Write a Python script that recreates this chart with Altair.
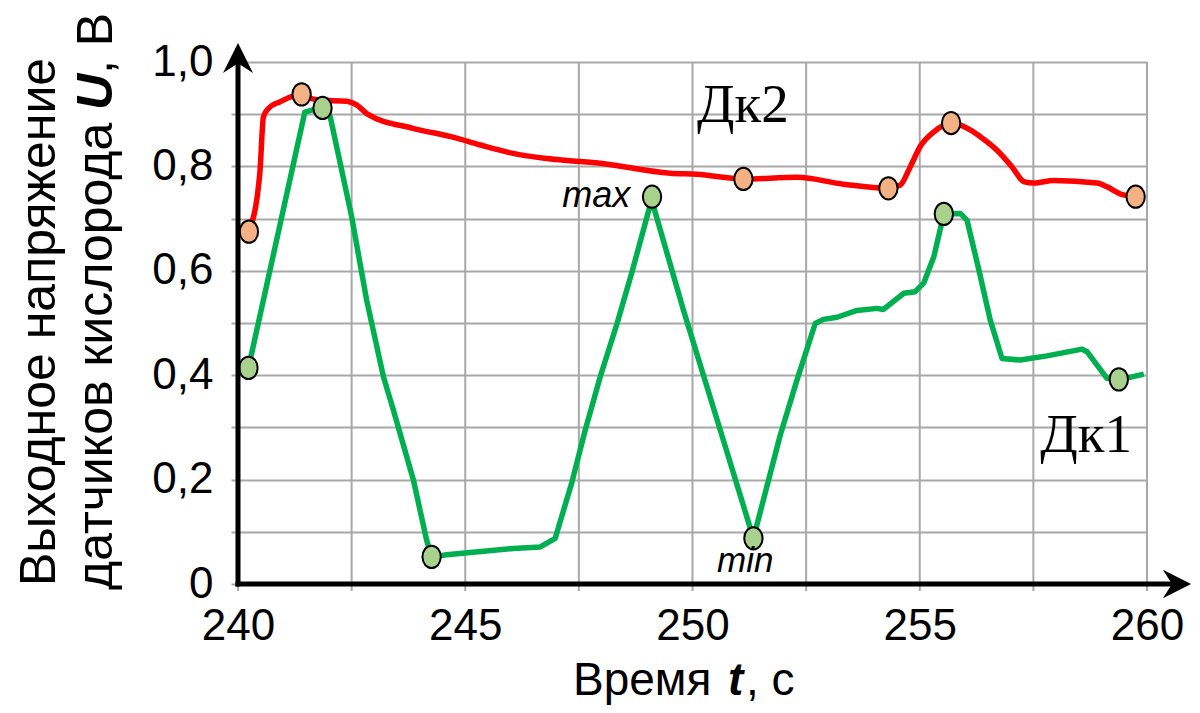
import altair as alt
import pandas as pd

# ---------------- data ----------------
# Дк2 (red) sensor trace
red_t = [240.24, 240.48, 240.56, 240.67, 240.93, 241.40, 241.62, 241.80, 242.39, 242.61,
         242.85, 243.85, 244.73, 245.33, 246.05, 246.80, 247.97, 249.51, 250.10, 251.12,
         252.30, 253.32, 254.31, 254.57, 254.79, 255.01, 255.31, 255.69, 256.11, 256.33,
         256.70, 257.03, 257.29, 257.51, 257.95, 258.90, 259.12, 259.42, 259.75]
red_u = [0.675, 0.787, 0.895, 0.911, 0.924, 0.938, 0.930, 0.927, 0.925, 0.918,
         0.900, 0.873, 0.856, 0.841, 0.825, 0.815, 0.806, 0.787, 0.785, 0.776,
         0.779, 0.766, 0.758, 0.764, 0.799, 0.838, 0.866, 0.883, 0.870, 0.857,
         0.831, 0.799, 0.771, 0.768, 0.773, 0.768, 0.761, 0.747, 0.742]
red_dot_t = [240.24, 241.40, 251.12, 254.31, 255.69, 259.75]
red_dot_u = [0.675, 0.938, 0.776, 0.758, 0.883, 0.742]

# Дк1 (green) sensor trace
green_t = [240.23, 241.47, 241.63, 241.86, 242.03, 242.50, 242.83, 243.20, 243.42, 243.86,
           244.15, 244.26, 244.59, 246.06, 246.65, 246.98, 247.35, 247.64, 247.97, 248.34,
           248.67, 249.10, 249.80, 250.61, 251.34, 251.93, 252.30, 252.70, 252.88, 253.18,
           253.62, 254.06, 254.20, 254.65, 254.90, 255.09, 255.31, 255.53, 255.89, 256.04,
           256.30, 256.55, 256.81, 257.21, 257.80, 258.57, 258.68, 259.12, 259.38, 259.93]
green_u = [0.414, 0.904, 0.908, 0.912, 0.895, 0.704, 0.544, 0.397, 0.333, 0.199,
           0.084, 0.052, 0.056, 0.068, 0.071, 0.0875, 0.196, 0.295, 0.397, 0.499,
           0.598, 0.736, 0.525, 0.295, 0.0875, 0.285, 0.391, 0.499, 0.507, 0.511,
           0.524, 0.528, 0.526, 0.557, 0.560, 0.577, 0.627, 0.709, 0.710, 0.697,
           0.602, 0.506, 0.432, 0.429, 0.437, 0.450, 0.445, 0.394, 0.391, 0.402]
green_dot_t = [240.23, 241.86, 244.26, 249.11, 251.34, 255.53, 259.38]
green_dot_u = [0.414, 0.912, 0.052, 0.742, 0.0875, 0.709, 0.392]

x_ticks = [240, 245, 250, 255, 260]
x_grid = [240, 242.5, 245, 247.5, 250, 252.5, 255, 257.5, 260]
y_grid = [0, 0.1, 0.2, 0.3, 0.4, 0.5, 0.6, 0.7, 0.8, 0.9, 1.0]

series_labels = ["Дк2", "Дк1"]
series_label_t = [250.10, 257.65]
series_label_u = [0.885, 0.253]

# ---------------- styling ----------------
W, H = 909, 522
SANS = "Liberation Sans"
GRID = "#a8a8a8"

red_df = pd.DataFrame({"t": red_t, "u": red_u})
red_dot_df = pd.DataFrame({"t": red_dot_t, "u": red_dot_u})
green_df = pd.DataFrame({"t": green_t, "u": green_u})
green_dot_df = pd.DataFrame({"t": green_dot_t, "u": green_dot_u})
grid_df = pd.DataFrame({"t": x_grid})
lab_df = pd.DataFrame({"t": series_label_t, "u": series_label_u, "label": series_labels})
max_df = pd.DataFrame({"t": [248.63], "u": [0.723], "label": ["max"]})
min_df = pd.DataFrame({"t": [250.54], "u": [0.0236], "label": ["min"]})

x_axis = alt.Axis(values=x_ticks, grid=False, ticks=False, domain=False,
                  labelFont=SANS, labelFontSize=44, labelColor="black",
                  labelPadding=20, labelFlush=False, labelBound=False,
                  labelOverlap=False, title=None)
y_axis = alt.Axis(values=y_grid, grid=True, gridColor=GRID, gridWidth=2, gridOpacity=1,
                  domain=False, ticks=True, tickColor=GRID, tickWidth=2, tickSize=7,
                  labelExpr="round(datum.value*10) % 2 == 1 ? '' : (datum.value == 0 ? '0' : replace(format(datum.value, '.1f'), '.', ','))",
                  labelFont=SANS, labelFontSize=44, labelColor="black",
                  labelPadding=18, labelOverlap=False, labelBound=False, labelFlush=False,
                  title=None)

xs = alt.Scale(domain=[240, 260], nice=False, zero=False)
ys = alt.Scale(domain=[0, 1], nice=False, zero=False)
X = alt.X("t:Q", scale=xs, axis=x_axis)
Y = alt.Y("u:Q", scale=ys, axis=y_axis)

vgrid = alt.Chart(grid_df).mark_rule(color=GRID, strokeWidth=2).encode(
    x=X, y=alt.value(0), y2=alt.value(H + 7))

axes_y = alt.Chart(alt.Data(values=[{}])).mark_rule(color="black", strokeWidth=5).encode(
    x=alt.value(0), y=alt.value(H + 2.5), y2=alt.value(-8))
axes_x = alt.Chart(alt.Data(values=[{}])).mark_rule(color="black", strokeWidth=5).encode(
    x=alt.value(-2.5), x2=alt.value(W + 32), y=alt.value(H))
arrow_up = alt.Chart(alt.Data(values=[{}])).mark_point(
    shape="M0,-1 L1,1 L0,0.35 L-1,1 Z", size=900, filled=True, color="black", opacity=1
).encode(x=alt.value(0), y=alt.value(-4))
arrow_right = alt.Chart(alt.Data(values=[{}])).mark_point(
    shape="M1,0 L-1,-1 L-0.35,0 L-1,1 Z", size=800, filled=True, color="black", opacity=1
).encode(x=alt.value(W + 30), y=alt.value(H))

red_line = alt.Chart(red_df).mark_line(color="#ff0000", strokeWidth=5.5,
                                       interpolate="monotone").encode(x=X, y=Y)
green_line = alt.Chart(green_df).mark_line(color="#00b050", strokeWidth=5.5,
                                           interpolate="linear",
                                           strokeJoin="round").encode(x=X, y=Y)
ELLIPSE = "M0,-1 A0.82,1 0 1,1 0,1 A0.82,1 0 1,1 0,-1 Z"
red_dots = alt.Chart(red_dot_df).mark_point(
    shape=ELLIPSE, size=500, filled=True, fill="#f4b183", stroke="black",
    strokeWidth=2, opacity=1).encode(x=X, y=Y)
green_dots = alt.Chart(green_dot_df).mark_point(
    shape=ELLIPSE, size=500, filled=True, fill="#a9d18e", stroke="black",
    strokeWidth=2, opacity=1).encode(x=X, y=Y)

series_text = alt.Chart(lab_df).mark_text(
    font="Liberation Serif", fontSize=55, align="left", baseline="alphabetic",
    color="black").encode(x=X, y=Y, text="label:N")
max_text = alt.Chart(max_df).mark_text(
    font=SANS, fontSize=36, fontStyle="italic", align="right", baseline="alphabetic",
    color="black").encode(x=X, y=Y, text="label:N")
min_text = alt.Chart(min_df).mark_text(
    font=SANS, fontSize=35, fontStyle="italic", align="left", baseline="alphabetic",
    color="black").encode(x=X, y=Y, text="label:N")

# axis titles (rich text split into pieces)
def txt(s, x, y, angle=0, weight="normal", style="normal", size=46, baseline="alphabetic"):
    return alt.Chart(alt.Data(values=[{}])).mark_text(
        text=s, font=SANS, fontSize=size, fontWeight=weight, fontStyle=style,
        align="left", baseline=baseline, angle=angle, color="black"
    ).encode(x=alt.value(x), y=alt.value(y))

xt1 = txt("Время", 335, 633)
xt2 = txt("t", 490, 633, weight="bold", style="italic")
xt3 = txt(", с", 508, 633)
yt1 = txt("Выходное напряжение", -198, 524, angle=270, size=50, baseline="middle")
yt2 = txt("датчиков кислорода", -141, 528, angle=270, size=50, baseline="middle")
yt3 = txt("U", -141, 48, angle=270, size=50, weight="bold", style="italic", baseline="middle")
yt4 = txt(", В", -141, 12, angle=270, size=50, baseline="middle")

chart = alt.layer(
    vgrid, red_line, green_line, red_dots, green_dots,
    axes_y, axes_x, arrow_up, arrow_right,
    series_text, max_text, min_text,
    xt1, xt2, xt3, yt1, yt2, yt3, yt4
).properties(
    width=W, height=H,
    autosize=alt.AutoSizeParams(type="none"),
    padding={"left": 230, "top": 54, "right": 45, "bottom": 121},
    background="white",
).configure_view(stroke=None)

chart.save("out.html", embed_options={"renderer": "svg", "actions": False})
